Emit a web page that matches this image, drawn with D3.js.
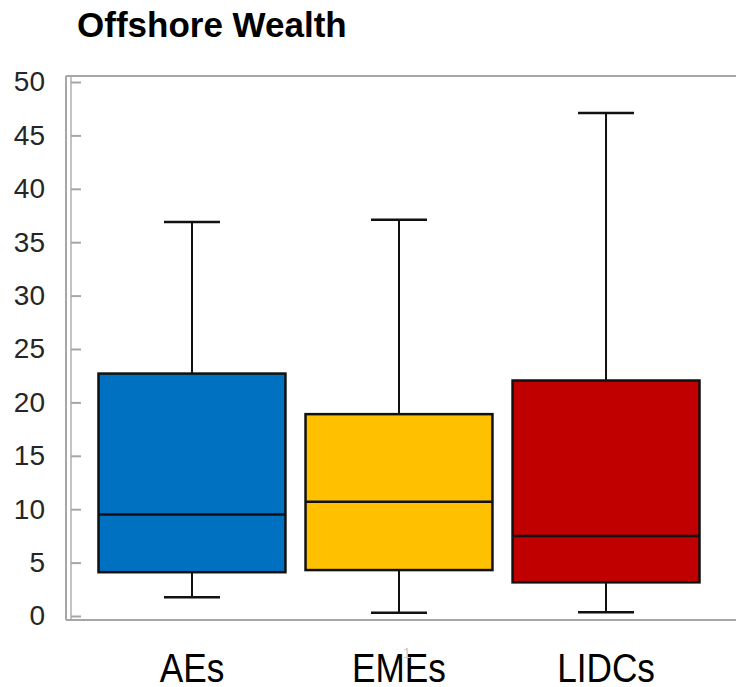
<!DOCTYPE html>
<html>
<head>
<meta charset="utf-8">
<script src="https://cdn.jsdelivr.net/npm/d3@7"></script>
<style>
  body { margin: 0; background: #fff; }
  svg { display: block; font-family: "Liberation Sans", Arial, sans-serif; }
</style>
</head>
<body>
<svg id="chart" width="736" height="687"></svg>
<script>
// box plot stats
const categories = ["AEs", "EMEs", "LIDCs"];
const whiskerLow = [1.75, 0.3, 0.35];
const q1 = [4.1, 4.3, 3.15];
const median = [9.5, 10.7, 7.5];
const q3 = [22.7, 18.9, 22.05];
const whiskerHigh = [36.9, 37.1, 47.1];
const colors = ["#0070C0", "#FFC000", "#C00000"];
const yTicks = [0, 5, 10, 15, 20, 25, 30, 35, 40, 45, 50];

const svg = d3.select("#chart");

const x = d3.scaleBand()
  .domain(categories)
  .range([66, 732])
  .paddingInner(0.097)
  .paddingOuter(0.157);

const y = d3.scaleLinear()
  .domain([0, 50])
  .range([616, 82]);

// title
svg.append("text")
  .attr("x", 77)
  .attr("y", 37)
  .attr("font-size", 35)
  .attr("font-weight", "bold")
  .attr("fill", "#000")
  .text("Offshore Wealth");

// plot frame (grey)
const frame = svg.append("g").attr("stroke", "#a6a6a6").attr("stroke-width", 2).attr("fill", "none");
frame.append("line").attr("x1", 66).attr("x2", 736).attr("y1", 76).attr("y2", 76);
frame.append("line").attr("x1", 66).attr("x2", 736).attr("y1", 620).attr("y2", 620);
frame.append("line").attr("x1", 66).attr("x2", 66).attr("y1", 76).attr("y2", 620);
frame.append("line").attr("x1", 71).attr("x2", 71).attr("y1", 77).attr("y2", 619)
  .attr("stroke", "#c4c4c4");

// y axis
const yAxis = svg.append("g")
  .attr("transform", "translate(71,0)")
  .attr("font-family", "Liberation Sans, Arial, sans-serif")
  .call(d3.axisLeft(y).tickValues(yTicks).tickSizeInner(-10).tickSizeOuter(0).tickPadding(26));
yAxis.select(".domain").remove();
yAxis.selectAll(".tick line").attr("stroke", "#a6a6a6").attr("stroke-width", 2);
yAxis.selectAll(".tick text").attr("font-size", 28).attr("fill", "#262626");

// x axis labels
const xAxis = svg.append("g")
  .attr("transform", "translate(0,620)")
  .attr("font-family", "Liberation Sans, Arial, sans-serif")
  .call(d3.axisBottom(x).tickSize(0).tickPadding(34));
xAxis.select(".domain").remove();
xAxis.selectAll(".tick text")
  .attr("font-size", 40)
  .attr("fill", "#000")
  .attr("transform", "scale(0.88,1)");

// small page marker under the axis
svg.append("text")
  .attr("x", 403)
  .attr("y", 658)
  .attr("font-size", 14)
  .attr("fill", "#c8c8c8")
  .text("1");

// boxes
const data = categories.map((c, i) => ({
  cat: c, lo: whiskerLow[i], q1: q1[i], med: median[i], q3: q3[i], hi: whiskerHigh[i], color: colors[i]
}));

const bw = x.bandwidth();
const capW = 56;

const g = svg.append("g").selectAll("g.box")
  .data(data)
  .join("g")
  .attr("class", "box")
  .attr("transform", d => `translate(${x(d.cat)},0)`);

// whiskers
g.append("line")
  .attr("x1", bw / 2).attr("x2", bw / 2)
  .attr("y1", d => y(d.hi)).attr("y2", d => y(d.q3))
  .attr("stroke", "#111").attr("stroke-width", 2);
g.append("line")
  .attr("x1", bw / 2).attr("x2", bw / 2)
  .attr("y1", d => y(d.q1)).attr("y2", d => y(d.lo))
  .attr("stroke", "#111").attr("stroke-width", 2);
g.append("line")
  .attr("x1", bw / 2 - capW / 2).attr("x2", bw / 2 + capW / 2)
  .attr("y1", d => y(d.hi)).attr("y2", d => y(d.hi))
  .attr("stroke", "#111").attr("stroke-width", 2.5);
g.append("line")
  .attr("x1", bw / 2 - capW / 2).attr("x2", bw / 2 + capW / 2)
  .attr("y1", d => y(d.lo)).attr("y2", d => y(d.lo))
  .attr("stroke", "#111").attr("stroke-width", 2.5);

// box
g.append("rect")
  .attr("x", 0)
  .attr("width", bw)
  .attr("y", d => y(d.q3))
  .attr("height", d => y(d.q1) - y(d.q3))
  .attr("fill", d => d.color)
  .attr("stroke", "#111")
  .attr("stroke-width", 2.5);

// median
g.append("line")
  .attr("x1", 0).attr("x2", bw)
  .attr("y1", d => y(d.med)).attr("y2", d => y(d.med))
  .attr("stroke", "#111").attr("stroke-width", 2.5);
</script>
</body>
</html>
